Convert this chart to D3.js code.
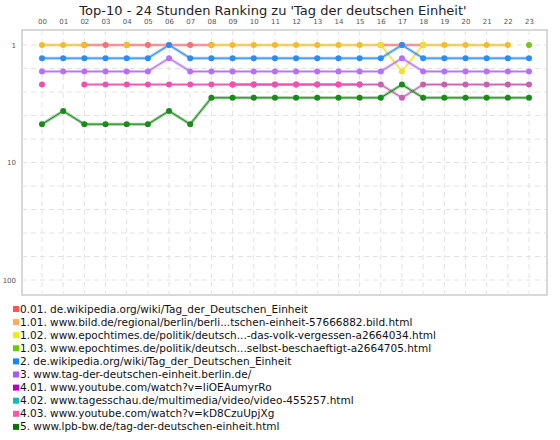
<!DOCTYPE html>
<html><head><meta charset="utf-8">
<script src="https://cdn.jsdelivr.net/npm/d3@7"></script>
<style>body{margin:0;background:#fff}text{font-family:"DejaVu Sans",Verdana,sans-serif}</style>
</head><body>
<svg id="c" width="560" height="440"></svg>
<script>
const hours = ["00","01","02","03","04","05","06","07","08","09","10","11","12","13","14","15","16","17","18","19","20","21","22","23"];
const yTicks = [1, 10, 100];
const N = null;
const seriesNames = ["0.01. de.wikipedia.org/wiki/Tag_der_Deutschen_Einheit","1.01. www.bild.de/regional/berlin/berli...tschen-einheit-57666882.bild.html","1.02. www.epochtimes.de/politik/deutsch...-das-volk-vergessen-a2664034.html","1.03. www.epochtimes.de/politik/deutsch...selbst-beschaeftigt-a2664705.html","2. de.wikipedia.org/wiki/Tag_der_Deutschen_Einheit","3. www.tag-der-deutschen-einheit.berlin.de/","4.01. www.youtube.com/watch?v=IiOEAumyrRo","4.02. www.tagesschau.de/multimedia/video/video-455257.html","4.03. www.youtube.com/watch?v=kD8CzuUpjXg","5. www.lpb-bw.de/tag-der-deutschen-einheit.html"];
const legendColors = ["#f55","#fa5","#ee0","#6c0","#18f","#a5f","#b0b","#1bb","#f5a","#070"];
const dotColors = ["#f57070","#f2bd2c","#f0e030","#80c020","#2a8cf5","#b670f5","#c860b0","#20b0b0","#f050b0","#1a8a1a"];
const s_red    = [N,N,1,1,1,1,1,1,1,N,N,N,N,N,N,N,1,1,1,N,N,N,N,N];
const s_orange = [1,1,1,N,1,N,N,N,1,1,1,1,1,1,1,1,1,N,1,1,1,1,1,N];
const s_yellow = [N,N,N,N,N,N,N,N,N,N,N,N,N,N,N,N,1,3,1,N,N,N,N,N];
const s_yg     = [N,N,N,N,N,N,N,N,N,N,N,N,N,N,N,N,N,N,N,N,N,N,N,1];
const s_blue   = [2,2,2,2,2,2,1,2,2,2,2,2,2,2,2,2,2,1,2,2,2,2,2,2];
const s_purple = [3,3,3,3,3,3,2,3,3,3,3,3,3,3,3,3,3,2,3,3,3,3,3,3];
const s_mag    = [N,N,N,N,N,N,N,N,N,4,4,4,4,4,4,4,4,5,4,4,4,4,4,4];
const s_teal   = [N,N,N,N,N,N,N,N,N,N,N,N,N,N,N,N,N,N,N,N,N,N,N,N];
const s_pink   = [4,N,4,4,4,4,4,4,4,4,4,4,4,4,4,4,N,N,N,N,N,N,N,N];
const s_green  = [7,6,7,7,7,7,6,7,5,5,5,5,5,5,5,5,5,4,5,5,5,5,5,5];
const series = [s_red,s_orange,s_yellow,s_yg,s_blue,s_purple,s_mag,s_teal,s_pink,s_green];

const svg = d3.select("#c");
const L=22,R=547,T=30,B=295;
const x = d3.scalePoint().domain(hours).range([42,529]);
const yLog = d3.scaleLog().domain([1,100]).range([45,280]);
const yRank = d3.scaleLinear().domain([1,2]).range([yLog(1), yLog(1)+13.2]);

svg.append("text").attr("x",273).attr("y",15).attr("text-anchor","middle").attr("font-size",13).attr("fill","#222")
  .text("Top-10 - 24 Stunden Ranking zu 'Tag der deutschen Einheit'");
svg.append("rect").attr("x",L).attr("y",T).attr("width",R-L).attr("height",B-T).attr("fill","#fff").attr("stroke","#ccc").attr("stroke-width",1.5);
const g = svg.append("g");
const gridVals = d3.range(0,11).map(k=>Math.pow(10,k/5));
g.selectAll(".hg").data(gridVals).join("line").attr("x1",L).attr("x2",R).attr("y1",d=>yLog(d)).attr("y2",d=>yLog(d))
  .attr("stroke","#e2e2e2").attr("stroke-dasharray","5,4");
g.selectAll(".vg").data(hours).join("line").attr("x1",d=>x(d)).attr("x2",d=>x(d)).attr("y1",T).attr("y2",B)
  .attr("stroke","#e2e2e2").attr("stroke-dasharray","5,4");
const topAxis = svg.append("g").attr("transform",`translate(0,${T-4})`).call(d3.axisTop(x).tickSize(0).tickPadding(2));
topAxis.select(".domain").remove();
topAxis.selectAll("text").attr("font-size",7).attr("fill","#555").attr("font-family","DejaVu Sans");
const leftAxis = svg.append("g").attr("transform",`translate(${L-4},0)`).call(d3.axisLeft(yLog).tickValues(yTicks).tickFormat(d3.format("d")).tickSize(0).tickPadding(2));
leftAxis.select(".domain").remove();
leftAxis.selectAll("text").attr("font-size",7).attr("fill","#555").attr("font-family","DejaVu Sans");
const line = d3.line().defined(d=>d!=null).x((d,i)=>x(hours[i])).y(d=>yRank(d));
series.forEach((s,k)=>{
  g.append("path").attr("d",line(s)).attr("fill","none").attr("stroke",dotColors[k]).attr("stroke-width",3).attr("stroke-opacity",0.45);
  g.append("path").attr("d",line(s)).attr("fill","none").attr("stroke",dotColors[k]).attr("stroke-width",1);
});
series.forEach((s,k)=>{
  g.selectAll(null).data(s.map((v,i)=>({v,i})).filter(d=>d.v!=null)).join("circle")
   .attr("cx",d=>x(hours[d.i])).attr("cy",d=>yRank(d.v)).attr("r",3).attr("fill",dotColors[k]);
});
const lg = svg.append("g");
seriesNames.forEach((n,k)=>{
  const yy = 312 + k*13.1;
  lg.append("rect").attr("x",13).attr("y",yy-6).attr("width",6).attr("height",6).attr("fill",legendColors[k]);
  lg.append("text").attr("x",20).attr("y",yy+0.5).attr("font-size",10.5).attr("fill","#111").text(n);
});
</script>
</body></html>
